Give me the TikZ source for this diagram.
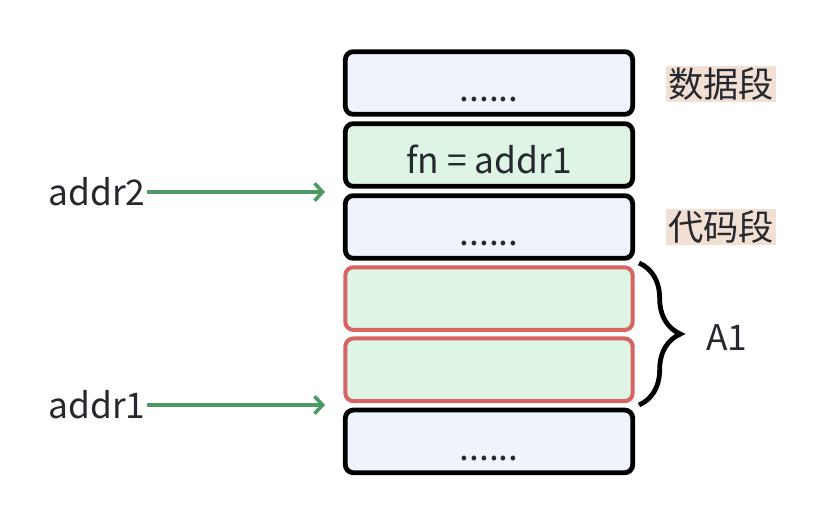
\documentclass[tikz,border=0pt]{standalone}
\usepackage{fontspec}
\setmainfont{Noto Sans CJK SC}
\usetikzlibrary{arrows.meta,positioning,decorations.pathreplacing}

\definecolor{cellblue}{HTML}{EFF3FC}
\definecolor{cellgreen}{HTML}{DEF4E4}
\definecolor{cellred}{HTML}{D56462}
\definecolor{arrowgreen}{HTML}{4E9A64}
\definecolor{segtan}{HTML}{F2E0D4}
\definecolor{inkgray}{HTML}{25282E}

\begin{document}
\begin{tikzpicture}[x=0.75pt,y=0.75pt,>={Straight Barb[length=6pt,width=13pt]},node distance=3.4pt,
    cell/.style={draw=black,line width=3.6pt,rounded corners=6pt,minimum width=215.5pt,minimum height=47pt,
                 inner sep=0pt,text height=28pt,text depth=0pt,font=\fontsize{26.5}{30}\selectfont,text=inkgray},
    redcell/.style={cell,draw=cellred,line width=3pt,fill=cellgreen},
    tag/.style={fill=segtan,inner sep=1.5pt,font=\fontsize{26.5}{30}\selectfont,text=inkgray},
    lbl/.style={inner sep=1pt,font=\fontsize{26.5}{30}\selectfont,text=inkgray}]

    \useasboundingbox (0,0) rectangle (824,-526);

    \node[cell,fill=cellblue] (seg1) at (489,-83) {......};
    \node[cell,fill=cellgreen] (seg2) [below=of seg1] {fn = addr1};
    \node[cell,fill=cellblue] (seg3) [below=of seg2] {......};
    \node[redcell] (seg4) [below=of seg3] {};
    \node[redcell] (seg5) [below=of seg4] {};
    \node[cell,fill=cellblue] (seg6) [below=of seg5] {......};

    \node[tag] (data) at (721,-84) {数据段};
    \node[tag] (code) at (721,-227) {代码段};

    \node[lbl] (addr2) at (97,-192) {addr2};
    \node[lbl] (addr1) at (97,-405) {addr1};
    \coordinate (p2) at (325,-192);
    \coordinate (p1) at (325,-405);

    \path[->,draw=arrowgreen,line width=2.7pt] (addr2) edge (p2)
                                             (addr1) edge (p1);

    % brace round the two red cells
    \coordinate (btop) at (639,-263);
    \coordinate (bbot) at (639,-405);
    \draw[decorate,decoration={brace,amplitude=31pt},line width=3.6pt] (btop) -- (bbot);
    \node[lbl] (a1) at (727,-338) {A1};

\end{tikzpicture}
\end{document}
